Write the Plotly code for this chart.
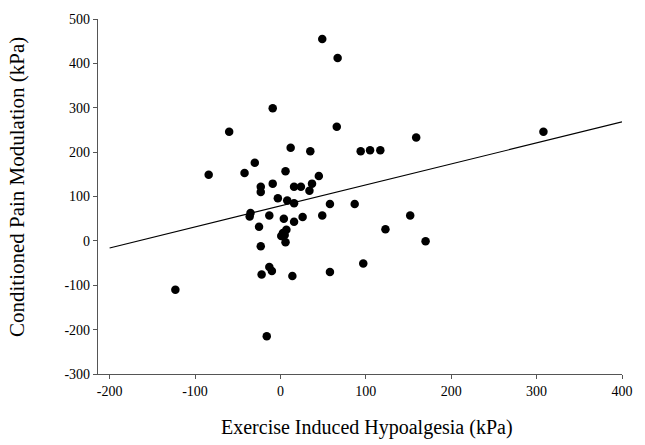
import plotly.graph_objects as go

# Exercise Induced Hypoalgesia (kPa)
eih = [49, 67, -9, -60, 66, 308, 159, 12, 35, 94, 105, 117, -30, -84, -42, 6, 45,
       -9, 37, -23, -23, 16, 24, 34, -3, 8, 16, 58, 87, -35, -36, -13, 26, 49, 152,
       4, 16, -25, 123, 7, 3, 1, 5, 6, 170, -23, -13, -10, -22, 14, 58, 97, -123, -16]
# Conditioned Pain Modulation (kPa)
cpm = [455, 412, 299, 246, 257, 246, 233, 210, 202, 202, 204, 204, 176, 149, 153, 157, 146,
       129, 129, 122, 110, 122, 122, 113, 96, 91, 85, 83, 83, 63, 55, 57, 54, 57, 57,
       50, 43, 32, 26, 25, 18, 11, 13, -3, -1, -12, -59, -68, -76, -79, -70, -51, -110, -215]

# Trend line end points
trend_x = [-200, 400]
trend_y = [-16, 268]

x_ticks = [-200, -100, 0, 100, 200, 300, 400]
y_ticks = [-300, -200, -100, 0, 100, 200, 300, 400, 500]

x_title = "Exercise Induced Hypoalgesia (kPa)"
y_title = "Conditioned Pain Modulation (kPa)"

font_family = "Liberation Serif, Times New Roman, serif"
axis_col = "#555555"

fig = go.Figure()
fig.add_trace(go.Scatter(x=trend_x, y=trend_y, mode="lines",
                         line=dict(color="black", width=1.2), hoverinfo="skip"))
fig.add_trace(go.Scatter(x=eih, y=cpm, mode="markers",
                         marker=dict(color="black", size=8.5, line=dict(width=0))))

fig.update_layout(
    width=645, height=445,
    margin=dict(l=98, r=18, t=13, b=71),
    paper_bgcolor="white", plot_bgcolor="white",
    showlegend=False,
    font=dict(family=font_family, color="black", size=14),
    xaxis=dict(
        range=[-213.6, 400], tickvals=x_ticks, ticktext=[str(v) for v in x_ticks],
        showgrid=False, zeroline=False, showline=True, linecolor=axis_col, linewidth=1.3,
        ticks="outside", ticklen=4, tickcolor=axis_col, tickwidth=1.3,
        tickfont=dict(size=14, family=font_family, color="black"),
    ),
    yaxis=dict(
        range=[-300, 500], tickvals=y_ticks, ticktext=[str(v) for v in y_ticks],
        showgrid=False, zeroline=False, showline=True, linecolor=axis_col, linewidth=1.3,
        ticks="outside", ticklen=4, tickcolor=axis_col, tickwidth=1.3,
        tickfont=dict(size=14, family=font_family, color="black"),
    ),
    annotations=[
        dict(text=x_title, xref="paper", yref="paper", x=0.514, y=-0.1496,
             xanchor="center", yanchor="middle", showarrow=False,
             font=dict(size=20, family=font_family, color="black")),
        dict(text=y_title, xref="paper", yref="paper", x=-0.155, y=0.526,
             xanchor="center", yanchor="middle", showarrow=False, textangle=-90,
             font=dict(size=21, family=font_family, color="black")),
    ],
)

fig.write_html("out.html", config={"displayModeBar": False},
               post_script="document.body.style.margin='0';")
